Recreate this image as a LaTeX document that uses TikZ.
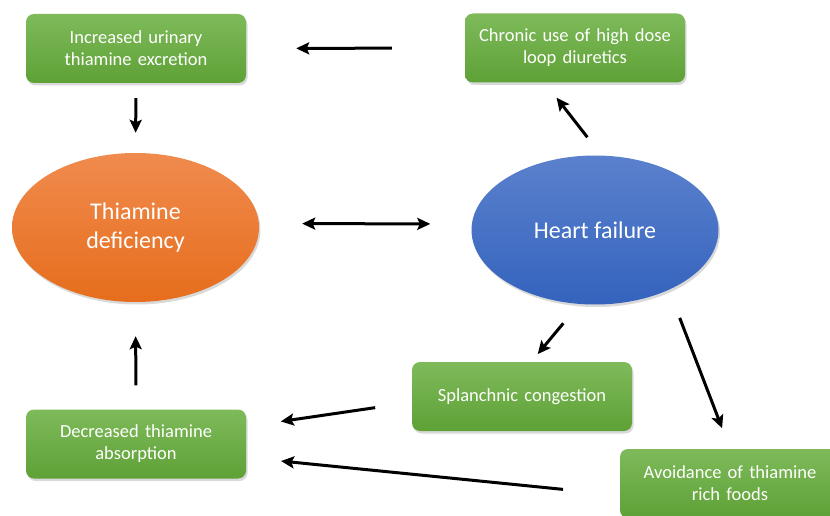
\documentclass[tikz,border=0pt]{standalone}
\usepackage{fontspec}
\setmainfont{Carlito}
\usepackage{tikz}
\usetikzlibrary{arrows.meta,shapes,shadows,positioning}
\tikzset{>={Stealth[length=13pt,width=12pt,inset=2.5pt]}}
\definecolor{leaftop}{HTML}{7EBA5A}
\definecolor{leafbot}{HTML}{5EA136}
\definecolor{rusttop}{HTML}{F08B4E}
\definecolor{rustbot}{HTML}{E66D1C}
\definecolor{seatop}{HTML}{5B81CD}
\definecolor{seabot}{HTML}{3463BD}
\tikzset{
  cause/.style={rectangle, rounded corners=8pt, minimum width=220pt,
    minimum height=69pt, text width=210pt, align=center, inner sep=0pt,
    top color=leaftop, bottom color=leafbot, text=white,
    font=\fontsize{18.5}{22}\selectfont,
    drop shadow={opacity=0.3, shadow xshift=1.5pt, shadow yshift=-2.5pt}},
  state/.style={ellipse, minimum width=247pt, minimum height=149pt,
    inner sep=0pt, align=center, text=white,
    font=\fontsize{24}{29}\selectfont,
    drop shadow={opacity=0.3, shadow xshift=1.5pt, shadow yshift=-2.5pt}},
  link/.style={->, line width=3pt}
}

\begin{document}
\begin{tikzpicture}[x=1pt, y=-1pt]
\useasboundingbox (0,0) rectangle (830,516);

% the two states
\node[state, top color=rusttop, bottom color=rustbot] (td) at (135.5,227.5) {Thiamine\\deficiency};
\node[state, top color=seatop, bottom color=seabot] (hf) at (595,230) {Heart failure};

% the causes
\node[cause] (urinary) at (136,48.5) {Increased urinary\\thiamine excretion};
\node[cause] (chronic) at (575,48) {Chronic use of high dose\\loop diuretics};
\node[cause] (splanchnic) at (522,396.5) {Splanchnic congestion};
\node[cause] (decreased) at (136,444) {Decreased thiamine\\absorption};
\node[cause] (avoidance) at (730,483.5) {Avoidance of thiamine\\rich foods};

% arrows float between the shapes, hence the shortening
\draw[link, shorten <=73pt, shorten >=50pt] (chronic.west) -- (urinary.east);
\draw[link, shorten <=15pt, shorten >=20pt] (urinary.south) -- (td.north);
\draw[<->, line width=3pt, shorten <=43pt, shorten >=41pt] ([yshift=4pt]td.east) -- ([yshift=6pt]hf.west);
\draw[link, shorten <=23pt, shorten >=19pt] (hf.85) -- (chronic.-131);
\draw[link, shorten <=24pt, shorten >=34pt] (decreased.north) -- (td.south);
\draw[link, shorten <=25pt, shorten >=10pt] (hf.-102) -- (splanchnic.75);
\draw[link, shorten <=30pt, shorten >=22pt] (hf.-39) -- (avoidance.north);
\draw[link, shorten <=37pt, shorten >=35pt] (splanchnic.183) -- (decreased.9);
\draw[link, shorten <=57pt, shorten >=35pt] (avoidance.186) -- (decreased.-7);
\end{tikzpicture}
\end{document}
